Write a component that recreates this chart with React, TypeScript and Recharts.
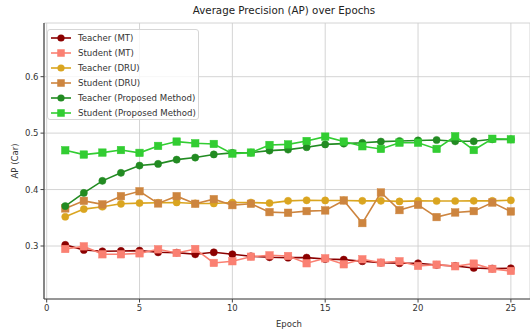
import React from 'react';
import { LineChart, Line, XAxis, YAxis, CartesianGrid, Label } from 'recharts';

const epochs = [1,2,3,4,5,6,7,8,9,10,11,12,13,14,15,16,17,18,19,20,21,22,23,24,25];
const teacherMT = [0.302,0.293,0.2906,0.2912,0.2918,0.2888,0.2882,0.2853,0.2888,0.2853,0.2818,0.280,0.2794,0.2794,0.277,0.2758,0.273,0.2705,0.2694,0.2694,0.2664,0.2647,0.2611,0.260,0.2606];
const studentMT = [0.2947,0.2994,0.2853,0.2853,0.287,0.2941,0.2876,0.2947,0.270,0.273,0.281,0.2835,0.2823,0.2694,0.2782,0.2676,0.2765,0.2705,0.273,0.2647,0.267,0.2641,0.2688,0.2594,0.2558];
const teacherDRU = [0.3518,0.3654,0.3695,0.3748,0.376,0.3766,0.3772,0.3754,0.3754,0.377,0.377,0.376,0.380,0.381,0.3807,0.3807,0.380,0.380,0.379,0.380,0.3797,0.3797,0.380,0.380,0.381];
const studentDRU = [0.3666,0.380,0.3737,0.3883,0.397,0.3754,0.3883,0.3748,0.383,0.3724,0.3748,0.360,0.3589,0.3618,0.363,0.3807,0.3406,0.3948,0.3636,0.373,0.3512,0.3594,0.3618,0.377,0.3612];
const teacherProp = [0.3707,0.394,0.4154,0.4296,0.4425,0.4455,0.453,0.4567,0.4622,0.465,0.4655,0.469,0.4708,0.475,0.480,0.4814,0.4828,0.485,0.486,0.487,0.4878,0.4855,0.4855,0.489,0.489];
const studentProp = [0.4696,0.462,0.4655,0.470,0.465,0.4773,0.485,0.482,0.4808,0.4637,0.4655,0.479,0.480,0.486,0.4938,0.485,0.4767,0.472,0.483,0.483,0.472,0.4943,0.470,0.490,0.489];

const xTicks = [0, 5, 10, 15, 20, 25];
const yTicks = [0.3, 0.4, 0.5, 0.6];

const series = [
  { key: 'tMT', name: 'Teacher (MT)', color: '#8b0000', marker: 'circle', values: teacherMT },
  { key: 'sMT', name: 'Student (MT)', color: '#fa8072', marker: 'square', values: studentMT },
  { key: 'tDRU', name: 'Teacher (DRU)', color: '#daa520', marker: 'circle', values: teacherDRU },
  { key: 'sDRU', name: 'Student (DRU)', color: '#cd853f', marker: 'square', values: studentDRU },
  { key: 'tP', name: 'Teacher (Proposed Method)', color: '#228b22', marker: 'circle', values: teacherProp },
  { key: 'sP', name: 'Student (Proposed Method)', color: '#32cd32', marker: 'square', values: studentProp },
];

const data = epochs.map((e, i) => {
  const row: any = { epoch: e };
  series.forEach((s) => { row[s.key] = s.values[i]; });
  return row;
});

const FONT = 'DejaVu Sans, sans-serif';

const makeDot = (color: string, marker: string) => (props: any) => {
  const { cx, cy, index } = props;
  if (cx == null || cy == null) return <g key={index} />;
  if (marker === 'square') {
    const s = 7.5;
    return <rect key={index} x={cx - s / 2} y={cy - s / 2} width={s} height={s} fill={color} stroke={color} strokeWidth={0.5} />;
  }
  return <circle key={index} cx={cx} cy={cy} r={3.6} fill={color} stroke={color} strokeWidth={0.5} />;
};

const LegendBox = () => (
  <div
    style={{
      position: 'absolute', left: 47, top: 29, width: 152, height: 91,
      background: 'rgba(255,255,255,0.8)', border: '1px solid #d6d6d6', borderRadius: 3,
      boxSizing: 'border-box', fontFamily: FONT, fontSize: 8.6, color: '#333',
    }}
  >
    {series.map((s, i) => (
      <div key={s.key} style={{ position: 'absolute', left: 2, top: 1 + i * 14.95, height: 14, display: 'flex', alignItems: 'center' }}>
        <svg width={22} height={14} style={{ display: 'block' }}>
          <line x1={1} y1={7} x2={21} y2={7} stroke={s.color} strokeWidth={1.6} />
          {s.marker === 'square'
            ? <rect x={7.25} y={3.25} width={7.5} height={7.5} fill={s.color} />
            : <circle cx={11} cy={7} r={3.6} fill={s.color} />}
        </svg>
        <span style={{ marginLeft: 6, whiteSpace: 'nowrap' }}>{s.name}</span>
      </div>
    ))}
  </div>
);

export default function App() {
  return (
    <div style={{ position: 'absolute', left: 0, top: 0, width: 530, height: 330, overflow: 'hidden', background: '#fff' }}>
      <div style={{ position: 'absolute', left: 0, top: 4, width: 530, fontFamily: FONT, fontSize: 10.3, color: '#222' }}>
        <span style={{ position: 'absolute', left: 284, transform: 'translateX(-50%)', whiteSpace: 'nowrap' }}>Average Precision (AP) over Epochs</span>
      </div>
      <LineChart width={530} height={330} data={data} margin={{ top: 23, right: 0, bottom: 0, left: 0 }}>
        <CartesianGrid stroke="#cfcfcf" strokeWidth={0.9} />
        <XAxis
          dataKey="epoch" type="number" domain={[-0.145, 26.03]} ticks={xTicks} allowDataOverflow
          height={31} tickSize={3.5} stroke="#444" tickLine={{ stroke: '#444' }} axisLine={{ stroke: '#444', strokeWidth: 1.2 }}
          tick={{ fontSize: 8.5, fontFamily: FONT, fill: '#333' }} tickMargin={2} interval={0}
        >
          <Label content={() => (
            <text x={289} y={327} textAnchor="middle" fontSize={8.5} fontFamily={FONT} fill="#333">Epoch</text>
          )} />
        </XAxis>
        <XAxis xAxisId="top" orientation="top" dataKey="epoch" type="number" domain={[-0.145, 26.03]} height={0} tick={false} tickLine={false} axisLine={{ stroke: '#444', strokeWidth: 1.2 }} />
        <YAxis
          type="number" domain={[0.2061, 0.6951]} ticks={yTicks} allowDataOverflow width={44}
          tickSize={3.5} axisLine={{ stroke: '#444', strokeWidth: 1.2 }} tickLine={{ stroke: '#444' }}
          tick={{ fontSize: 8.5, fontFamily: FONT, fill: '#333' }} tickMargin={2}
          tickFormatter={(v: number) => v.toFixed(1)}
        >
          <Label content={() => (
            <text x={15} y={161} textAnchor="middle" dominantBaseline="central" transform="rotate(-90 15 161)" fontSize={8.5} fontFamily={FONT} fill="#333">AP (Car)</text>
          )} />
        </YAxis>
        {series.map((s) => (
          <Line
            key={s.key} dataKey={s.key} name={s.name} stroke={s.color} strokeWidth={1.6}
            dot={makeDot(s.color, s.marker)} activeDot={false} isAnimationActive={false}
          />
        ))}
      </LineChart>
      <LegendBox />
    </div>
  );
}
